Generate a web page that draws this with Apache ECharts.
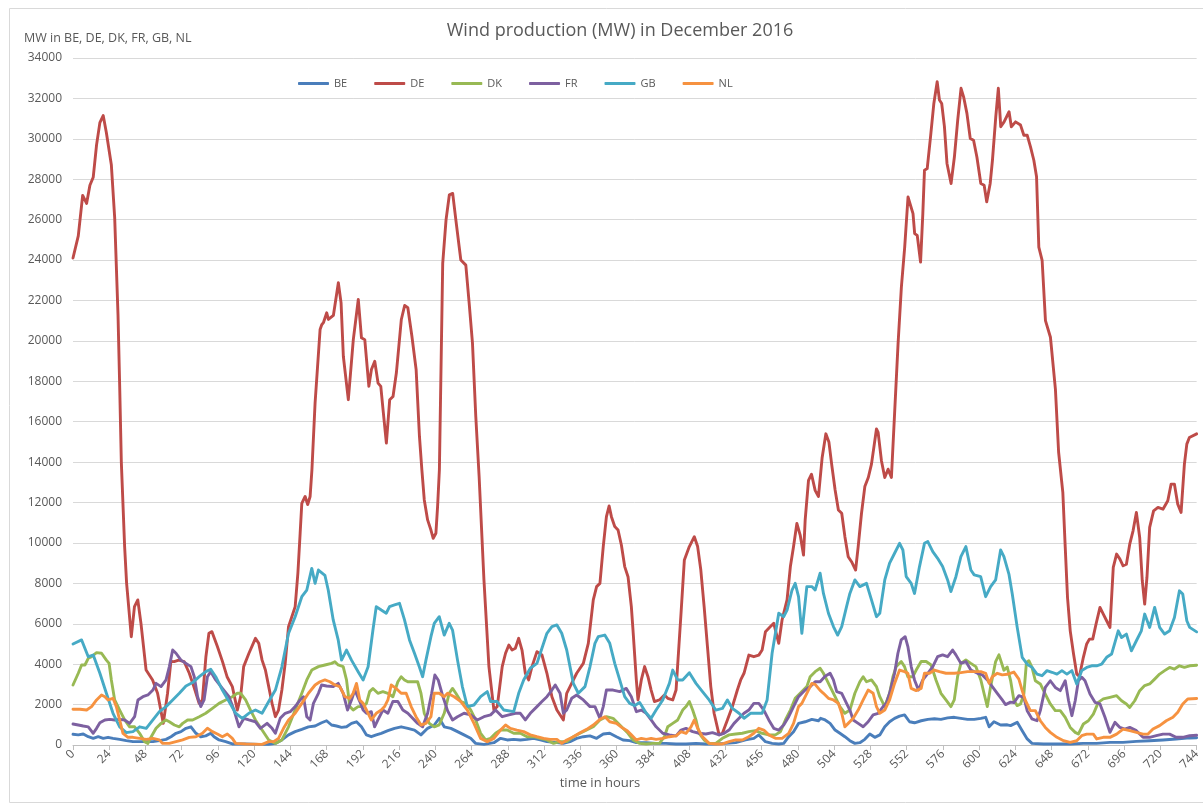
<!DOCTYPE html>
<html><head><meta charset="utf-8">
<script src="https://cdn.jsdelivr.net/npm/echarts@6/dist/echarts.min.js"></script>
<style>html,body{margin:0;padding:0;background:#fff;overflow:hidden}#chart{width:1203px;height:803px}</style>
</head><body><div id="chart"></div>
<script>
// [hour, MW] points
const bePoints = [[0,530],[3.5,500],[6.8,545],[10.1,410],[13.4,330],[16.7,410],[20,330],[23.2,380],[26.5,330],[30.9,280],[35.3,215],[39.7,165],[44.1,165],[48.5,165],[52.9,165],[57.2,215],[61.6,280],[64.9,410],[68.2,580],[71.5,660],[74.8,825],[78.1,900],[81.4,580],[84.6,410],[87.9,450],[91.2,580],[93.4,410],[96.7,250],[101.1,165],[105.5,50],[114.3,50],[123,30],[129.6,30],[134,80],[138.3,250],[142.7,500],[147.1,660],[151.5,775],[155.9,900],[160.3,940],[164.6,1100],[167.9,1200],[171.2,990],[174.5,940],[177.8,875],[181.1,900],[184.4,1070],[187.7,1150],[191,900],[194.3,500],[197.5,410],[200.8,500],[204.1,580],[208.5,710],[212.9,825],[217.3,900],[221.7,825],[226.1,740],[230.4,500],[234.8,825],[239.2,990],[242.5,1320],[245.8,900],[250.2,825],[254.6,660],[258.9,500],[263.3,330],[266.6,80],[272.1,30],[278.7,115],[283.1,330],[287.5,250],[291.8,280],[296.2,250],[300.6,280],[305,330],[309.4,250],[313.8,165],[320.4,115],[324.7,80],[329.1,165],[333.5,330],[337.9,410],[342.3,450],[346.7,330],[351.1,545],[355.4,580],[359.8,410],[364.2,250],[368.6,215],[373,120],[379.6,115],[386.1,80],[392.7,80],[399.3,50],[405.9,50],[412.5,80],[419,50],[425.6,50],[432.2,80],[438.8,115],[445.3,250],[450.8,330],[454.1,500],[458.5,165],[462.9,80],[467.3,50],[470.6,80],[473.9,410],[477.1,660],[480.4,1070],[484.8,1150],[489.2,1270],[493.6,1200],[495,1320],[498,1240],[501.3,1070],[504.6,740],[507.8,580],[511.1,410],[514.4,215],[517.7,80],[521,115],[524.3,280],[527.6,545],[530.9,380],[534.2,500],[537.5,900],[540.7,1150],[544,1320],[547.3,1430],[550.6,1490],[553.9,1150],[557.2,1100],[561.6,1200],[566,1270],[570.4,1300],[574.7,1270],[579.1,1340],[583.5,1370],[587.9,1320],[592.3,1270],[596.7,1270],[601.1,1320],[604.3,1370],[606.6,900],[609.8,1150],[614.2,990],[618.6,1000],[620.8,960],[625.2,1120],[628.5,710],[631.8,300],[635,80],[642.7,50],[651.5,50],[660.3,50],[669,80],[677.8,80],[686.6,130],[695.3,130],[704.1,180],[712.9,210],[721.7,250],[730.4,300],[739.4,350],[744,360]];

const dePoints = [[0,24100],[3.5,25200],[6.4,27200],[9,26800],[11.2,27700],[13.4,28100],[15.6,29700],[17.8,30800],[20,31150],[22.1,30300],[25.4,28700],[27.6,26100],[29.8,21300],[30.9,17800],[32,14000],[34.2,9800],[35.5,8000],[38.6,5360],[40.7,6850],[42.9,7180],[45,6020],[48.4,3710],[52.7,3220],[56,2560],[59.8,1070],[62.6,2560],[64.8,4130],[67,4125],[70,4200],[73.6,4125],[77,3550],[80,2890],[83.5,2060],[85.7,2230],[88,4370],[90,5530],[92,5610],[95.6,4870],[99,4125],[102,3380],[105.5,2890],[108.8,1730],[111,2390],[113,3880],[116.5,4540],[120.8,5280],[123,5030],[125.2,4200],[127.4,3710],[129.6,2890],[131.8,2060],[134,1400],[136.1,1730],[138.3,2720],[140.5,4040],[142.7,5860],[144.9,6350],[147.1,6850],[148.9,8500],[150.4,10480],[151.5,11960],[153.7,12300],[155.4,11900],[157,12300],[158.2,13620],[160.3,16940],[163.6,20560],[164.7,20800],[165.8,20900],[168,21390],[169.1,21060],[172.4,21260],[175.7,22880],[177.5,21880],[179,19240],[182.3,17090],[185.6,20060],[188.9,22050],[191,20150],[193.2,20060],[195.9,17750],[197.6,18580],[199.8,18990],[202,17910],[203.8,17750],[205.3,16590],[207.5,14940],[209.7,17090],[211.9,17250],[214.1,18410],[217.4,21060],[219.6,21750],[221.7,21640],[224.4,20230],[227.2,18580],[229.4,15270],[231,13620],[232.6,12130],[234.8,11140],[237,10640],[238.5,10230],[240.3,10480],[241.4,11800],[242.6,13620],[244.8,23840],[247,25990],[249.2,27230],[251.4,27300],[253.5,25990],[255.7,24660],[256.8,24000],[260.1,23750],[262.3,21880],[264.5,19900],[266.7,16260],[268.9,13300],[272.1,8170],[275.4,3880],[278.7,1730],[280.9,1900],[284.2,3880],[286.4,4540],[288.6,4950],[290.7,4700],[292.9,4790],[295.1,5280],[297.3,4700],[299.5,3550],[301.7,3220],[303.9,3880],[307.2,4620],[310.5,4455],[313.8,3550],[317.1,2390],[320.4,1730],[324.7,1240],[326.9,2560],[329.1,2890],[333.5,3550],[337.9,4040],[341.2,5030],[344.5,7180],[346.7,7840],[348.9,8000],[351.1,9820],[353.2,11300],[355,11830],[356.5,11300],[358.7,10810],[360.9,10640],[363.1,9900],[365.3,8830],[367.5,8330],[369.7,6850],[370.8,5690],[373,3220],[374.1,2230],[376.3,3220],[378.5,3880],[380.7,3380],[382.8,2720],[385,2150],[388.3,2230],[391.6,2475],[393.8,2310],[397.1,2230],[399.3,2720],[402.6,6520],[404.8,9160],[408.1,9820],[411.4,10310],[413.6,9820],[415.7,8660],[417.9,6850],[420.1,4870],[422.3,2890],[424.5,1570],[427.8,500],[430,580],[433.3,1240],[436.6,1900],[439.9,2720],[442.1,3220],[444.3,3550],[447.5,4450],[450.8,4370],[454.1,4450],[456.3,4700],[458.5,5610],[461.8,5860],[464,6020],[467.3,5030],[469.5,6190],[472.8,7180],[475,8830],[477.1,9820],[479.3,10970],[481.5,10390],[483.7,9400],[484.8,11140],[487,13100],[489,13400],[491.4,12600],[493.6,12300],[496,14200],[498.5,15400],[500.5,15000],[502.5,13800],[504.6,12630],[506.8,11630],[509,11470],[511.1,10310],[513.3,9320],[515.5,9070],[518.2,8660],[519.9,9820],[522.1,11470],[524.3,12790],[526.6,13240],[528.7,13900],[532,15640],[533.1,15470],[535.3,14070],[537.5,13240],[539.7,13650],[541.9,13240],[544.1,16550],[546.3,19850],[548.5,22660],[550.7,24640],[552.9,27120],[554,27160],[556.2,26300],[557.3,25310],[559,25220],[561.2,23900],[562.7,26300],[563.8,28450],[565.6,28530],[567.8,30100],[570,31750],[572.2,32830],[573.7,31920],[575.2,31750],[577,30600],[578.7,28780],[581.4,27790],[583.6,29100],[585.8,30930],[588,32500],[589.7,32080],[591.9,31260],[594.1,30020],[596.3,29930],[598.5,29100],[601.1,27790],[603.3,27700],[605,26880],[607.3,27790],[608.8,28940],[611,31090],[612.7,32500],[614.3,30600],[616.5,30840],[619.8,31340],[621.3,30600],[624.1,30840],[627.4,30680],[629.6,30180],[631.8,30180],[634,29600],[636.2,28940],[638,28120],[639.5,24640],[641.7,23980],[643.9,21000],[647.2,20180],[650.5,17600],[652.6,14500],[655.4,12500],[657,9780],[658.5,7300],[660.3,5650],[662.5,4500],[664.6,3510],[666.4,3400],[669,4340],[671.2,5000],[673,5240],[675.2,5240],[677.4,5990],[680,6810],[682.2,6480],[684.4,6150],[686.6,5820],[688.8,8790],[691,9450],[693.2,9200],[695.3,8870],[697.5,8950],[699.7,9940],[701.9,10600],[704.1,11510],[706.3,10270],[708,8130],[709.6,6970],[711.1,8290],[712.9,10770],[715.5,11590],[718.4,11760],[721.7,11670],[724.9,12090],[727.1,12910],[729.3,12910],[731.5,11920],[733.7,11510],[735.9,13900],[737.5,14890],[739.2,15220],[744,15400]];

const dkPoints = [[0,2970],[3.5,3550],[5.7,3960],[7.9,3960],[10.1,4290],[12.3,4370],[15.6,4570],[18.9,4540],[22.1,4200],[23.9,4040],[25.4,3220],[27.6,2230],[30.9,1730],[34.2,1240],[37.5,900],[40.8,900],[44.1,580],[47.4,160],[49.6,80],[51.8,410],[55,825],[58.3,1070],[61.6,1240],[63.8,1150],[67.1,990],[70.4,900],[72.6,1070],[75.9,1240],[79.2,1240],[83.6,1400],[87.9,1570],[92.3,1810],[96.7,2060],[101.1,2230],[105.5,2390],[108.8,2560],[111,2560],[114.3,2230],[117.5,1730],[120.8,1240],[125.2,740],[129.6,250],[134,80],[138.3,250],[142.7,900],[147.1,1730],[151.5,2560],[154.8,3220],[158.1,3710],[162.5,3880],[166.8,3960],[171.2,4040],[173.4,4120],[175.6,3960],[178.9,3880],[181.1,3220],[183.3,1900],[185.5,1730],[188.8,1900],[192.1,1900],[194.3,2060],[196.4,2640],[198.6,2800],[201.9,2560],[205.2,2640],[208.5,2560],[211.8,2390],[215.1,3130],[217.3,3380],[219.5,3220],[221.7,3130],[224.9,3130],[228.2,3130],[230.4,2560],[232.6,1570],[235.9,1070],[239.2,900],[242.5,1000],[245.8,1570],[249.1,2560],[251.3,2800],[253.5,2560],[256.8,2150],[260.1,2060],[263.4,1730],[266.6,1240],[269.9,580],[273.2,250],[276.5,330],[279.8,580],[283.1,740],[287.5,740],[291.8,580],[296.2,580],[300.6,410],[305,410],[309.4,330],[313.8,250],[318.2,80],[322.5,165],[326.9,165],[331.3,410],[335.7,580],[340.1,740],[344.5,900],[348.9,1240],[353.2,1400],[357.6,1320],[360.9,1070],[364.2,825],[367.5,580],[370.8,250],[375.2,80],[379.6,50],[383.9,80],[388.3,80],[391.6,410],[393.8,900],[397.1,1070],[400.4,1240],[403.7,1730],[405.9,1900],[408.1,2150],[410.3,1730],[412.5,1240],[414.6,580],[417.9,250],[421.2,80],[425.6,80],[430,330],[434.4,500],[438.8,545],[443.2,580],[447.5,660],[451.9,710],[456.3,580],[460.7,500],[465.1,500],[468.4,660],[471.7,1240],[475,1730],[478.2,2310],[481.5,2560],[485.9,2890],[488.1,3380],[491.4,3630],[494.7,3800],[496.9,3550],[499.1,3220],[501.3,2890],[504.6,2390],[507.8,1900],[511.1,1570],[514.4,1730],[517.7,2560],[521,3130],[523.2,3380],[525.4,3130],[528.7,3220],[532,2890],[534.2,2390],[537.5,1900],[540.7,2560],[542.9,3380],[545.1,3880],[548.4,4130],[550.6,3880],[552.8,3380],[556.1,3380],[558.3,3710],[561.6,4130],[564.9,4130],[568.2,3960],[571.4,3220],[574.7,2560],[578,2230],[581.3,1900],[583.5,2230],[585.7,3380],[587.9,4040],[591.2,4210],[594.5,4040],[597.8,3880],[601.1,3220],[603.2,2560],[605.4,1900],[607.6,2890],[610.9,4130],[613.1,4460],[616.4,3700],[618.6,3860],[620.8,3200],[623,2200],[625.2,1950],[627.4,2030],[629.6,2520],[631.3,4090],[632.9,4170],[635,3840],[637.2,3180],[640.5,3020],[643.8,2520],[647.1,2030],[650.4,1700],[653.7,1700],[657,1370],[660.3,870],[663.6,625],[665.7,540],[669,1040],[672.3,1200],[675.6,1530],[678.9,2110],[682.2,2280],[686.6,2360],[691,2440],[694.3,2190],[697.5,2030],[699.7,1860],[703,2190],[706.3,2690],[709.6,2940],[712.9,3020],[716.2,3260],[719.5,3510],[722.8,3680],[726.1,3840],[729.3,3760],[732.6,3920],[735.9,3840],[739.4,3920],[744,3950]];

const frPoints = [[0,1040],[3.5,990],[6.8,940],[10.1,900],[13.4,580],[15.6,825],[17.8,1100],[21.1,1240],[24.3,1270],[27.6,1240],[30.9,1270],[34.2,1240],[37.5,1070],[40.8,1400],[43,2230],[46.3,2390],[49.6,2475],[52.9,2720],[55,3050],[58.3,2890],[61.6,3220],[63.8,3880],[66,4700],[68.2,4540],[71.5,4200],[74.8,4040],[78.1,3880],[80.3,3380],[82.5,2390],[84.6,1900],[86.8,2230],[89,3380],[91.2,3630],[94.5,3220],[98.9,2800],[103.3,2390],[106.6,1730],[109.9,900],[113.2,1320],[116.4,1240],[120.8,1150],[124.1,825],[128.5,1070],[131.8,825],[134,580],[137.2,1320],[140.5,1570],[143.8,1650],[147.1,1900],[150.4,2230],[152.6,2390],[154.8,1400],[157,1240],[159.2,2060],[162.5,2560],[164.6,2970],[167.9,2920],[172.3,2890],[175.6,3050],[178.9,2560],[181.8,1730],[184.4,2230],[186.6,2720],[189.9,2150],[192.1,1730],[194.3,1570],[197.5,1650],[199.7,900],[201.9,1240],[205.2,1730],[208.5,1570],[211.8,2150],[215.1,2150],[218.4,1730],[221.7,1570],[224.9,1320],[228.2,1070],[231.5,900],[234.8,1570],[237.5,2560],[239.6,3465],[241.8,3220],[244.7,2450],[248,1700],[251.3,1240],[254.6,1400],[258.9,1570],[263.3,1490],[267.7,1240],[272.1,1400],[276.5,1490],[279.8,1730],[284.2,1400],[288.6,1490],[293,1570],[296.2,1570],[299.5,1240],[302.8,1570],[307.2,1900],[310.5,2150],[313.8,2390],[317.1,2720],[319.3,2970],[322.5,2560],[324.7,1570],[326.9,1730],[330.2,2310],[333.5,2475],[337.9,2230],[342.3,1900],[345.6,1900],[348.9,1320],[351.1,1900],[353.2,2720],[357.6,2720],[362,2640],[366.4,2800],[369.7,2390],[373,1650],[376.3,1730],[379.6,1570],[382.8,1240],[386.1,900],[390.5,580],[394.9,500],[399.3,450],[402.6,740],[405.9,825],[410.3,660],[414.6,580],[419,545],[423.4,610],[427.8,500],[431.1,580],[434.4,740],[437.7,1070],[441,1320],[444.3,1570],[447.5,1730],[450.8,2060],[454.1,2060],[457.4,1730],[460.7,1240],[464,825],[467.3,740],[470.6,990],[473.9,1400],[477.1,1900],[480.4,2390],[484.8,2720],[488.1,2890],[491.4,3130],[494.7,3130],[498,3400],[501.3,3550],[503.5,3220],[505.7,2640],[509,2560],[512.2,2060],[514.4,1730],[516.6,1240],[519.9,1070],[523.2,900],[526.5,1150],[529.8,1490],[533.1,1570],[536.4,1900],[538.5,2060],[540.7,2560],[544,3550],[546.2,4540],[548.4,5200],[551,5360],[552.8,4870],[555,3880],[557.2,3220],[559.8,2720],[562.7,3220],[566,3550],[569.3,3880],[572.5,4370],[575.8,4460],[579.1,4370],[582.4,4700],[584.6,4460],[587.9,4040],[591.2,4130],[594.5,3710],[598.9,3550],[602.1,3470],[605.4,3220],[608.7,2890],[612,2560],[615.3,2230],[617.5,2000],[620.8,2120],[623,2100],[626.3,2440],[629.6,2360],[631.8,1700],[635,1290],[638.3,1200],[640.5,1700],[643.8,2850],[647.1,3180],[650.4,2850],[653.7,2690],[657,3180],[659.2,2190],[661.4,1450],[663.6,2190],[665.7,3180],[668,3350],[670.1,3180],[673.4,2520],[676.7,2110],[680,2030],[683.3,1370],[686.6,625],[689.9,1120],[693.2,870],[696.4,790],[699.7,870],[704.1,710],[708.5,380],[712.9,380],[717.3,460],[721.7,540],[726.1,540],[730.4,380],[734.8,380],[739.4,460],[744,480]];

const gbPoints = [[0,5000],[5.7,5200],[10.1,4370],[13.4,4450],[17.8,3550],[22.1,2560],[26.5,1570],[30.9,900],[35.3,610],[39.7,660],[44.1,900],[48.5,825],[52.9,1240],[57.2,1650],[61.6,1900],[66,2230],[70.4,2560],[74.8,2920],[79.2,3090],[83.6,3380],[87.9,3630],[91.2,3750],[94.5,3380],[98.9,2720],[103.3,2150],[107.7,1570],[112.1,1320],[116.4,1570],[120.8,1730],[125.2,1570],[129.6,2150],[134,2720],[138.3,3870],[142.7,5520],[147.1,6350],[151.5,7340],[154.8,7670],[158.1,8740],[160.3,8000],[162.5,8660],[166.8,8400],[169,7670],[172.3,6190],[175.6,5200],[177.8,4200],[181.1,4700],[184.4,4200],[188.8,3630],[192.1,3220],[195.4,3870],[198.6,5690],[200.8,6850],[204.1,6680],[207.4,6520],[209.6,6850],[212.9,6930],[216.2,7010],[219.5,6190],[222.8,5200],[226.1,4540],[229.3,3870],[231.5,3380],[233.7,4200],[237,5360],[239.2,6020],[242.5,6350],[245.8,5440],[249.1,6020],[251.3,5690],[254.6,4200],[257.8,2890],[261.1,1900],[265.5,1980],[269.9,2390],[274.3,2640],[276.5,2150],[280.9,2150],[285.3,1730],[291.8,1650],[295.1,2560],[298.4,3220],[302.8,3800],[307.2,4040],[310.5,4790],[313.8,5530],[317.1,5860],[320.4,5940],[323.6,5530],[326.9,4700],[329.1,3870],[331.3,3050],[334.6,2560],[339,2890],[342.3,3870],[345.6,5030],[347.8,5360],[352.1,5440],[355.4,5030],[358.7,4040],[362,3220],[365.3,2390],[368.6,2060],[372,1950],[375.2,2100],[379.6,1570],[382.8,1320],[386.1,1730],[390.5,2230],[394.9,3050],[397.1,3710],[400.4,3220],[403.7,3220],[408.1,3580],[412.5,3050],[416.8,2640],[421.2,2230],[425.6,1730],[430,1810],[433.3,2230],[436.6,1810],[441,1570],[444.3,1320],[448.6,1570],[451.9,1570],[456.3,1570],[459.6,2230],[462.9,4540],[467.3,6520],[470.6,6350],[472.8,6680],[476.1,7670],[478.2,8000],[480.4,7340],[482.6,5530],[485.9,7840],[489.2,7840],[491.4,7670],[494.7,8500],[496.9,7500],[500.2,6520],[503.5,5860],[506.3,5440],[509,5860],[512.2,6850],[514.4,7500],[517.7,8170],[521,7840],[525.4,8000],[528.7,7180],[532,6350],[534.2,6520],[537.5,8170],[540.7,9000],[544,9490],[547.3,9980],[549.5,9650],[551.7,8330],[555,8000],[557.2,7500],[560.5,8830],[563.8,9980],[566,10070],[569.3,9570],[572.5,9240],[575.8,8830],[579.1,8170],[581.3,7590],[584.6,8330],[587.9,9320],[591.2,9820],[594.5,8660],[596.7,8420],[601,8330],[604.3,7340],[607.6,7840],[610.9,8170],[614.2,9650],[616.4,9320],[619.7,8460],[621.9,7490],[625.2,5820],[628.5,4340],[631.8,4000],[635,3840],[638.3,3510],[641.6,3430],[644.9,3680],[648.2,3600],[651.5,3510],[654.8,3680],[658.1,3510],[661.4,3680],[664.6,3020],[667.9,3680],[671.2,3840],[674.5,3920],[677.8,3920],[681.1,4000],[684.4,4340],[687.7,4500],[692.1,5650],[694.3,5320],[697.5,5490],[700.8,4660],[704.1,5160],[707.4,5650],[709.6,6480],[712.9,5820],[716.2,6810],[719.5,5820],[722.8,5490],[726.1,5650],[729.3,6310],[732.6,7630],[734.8,7470],[737.5,6150],[739.4,5820],[744,5600]];

const nlPoints = [[0,1770],[4.6,1770],[9,1730],[12.3,1900],[15.6,2230],[18.9,2475],[21.1,2390],[23.2,2230],[26.5,2310],[28.7,1900],[30.9,1240],[33.1,580],[36.4,380],[39.7,380],[44.1,330],[48.5,280],[52.9,330],[57.2,250],[59.4,80],[63.8,80],[68.2,165],[72.6,250],[77,380],[81.4,410],[85.7,580],[89,825],[92.3,660],[95.6,545],[98.9,410],[102.2,545],[105.5,330],[107.7,80],[114.3,50],[125.2,30],[129.6,165],[132.8,165],[136.1,330],[139.4,825],[142.7,1240],[147.1,1570],[151.5,2060],[155.9,2560],[160.3,2970],[163.5,3130],[166.8,3220],[170.1,3130],[173.4,2970],[176.7,2890],[180,2390],[183.3,2310],[185.5,2560],[187.7,3050],[189.9,2230],[192.1,2060],[195.4,1570],[197.5,1240],[200.8,1570],[204.1,1730],[206.3,1900],[208.5,2230],[210.7,2970],[214,2800],[217.3,2560],[220.6,2560],[223.9,1900],[227.1,1400],[230.4,990],[233.7,1070],[237,1400],[239.2,2560],[242.5,2560],[245.8,2390],[248,2560],[252.4,2390],[256.8,2150],[261.1,1730],[265.5,1070],[269.9,330],[274.3,165],[278.7,330],[283.1,740],[286.4,990],[289.6,825],[293.9,740],[298.4,660],[302.8,500],[307.2,410],[311.6,330],[315.9,280],[320.4,280],[323.6,80],[326.9,250],[331.3,410],[335.7,610],[340.1,775],[344.5,990],[348.9,1270],[352.2,1400],[355.4,1150],[359.8,1070],[364.2,825],[367,700],[369.7,500],[373,250],[376.3,330],[379.6,280],[382.8,330],[386.1,280],[390.5,330],[394.9,410],[399.3,450],[402.6,660],[405.9,580],[409.2,900],[411.4,1240],[413.6,825],[416.8,410],[421.2,80],[425.6,50],[430,50],[434.4,165],[438.8,250],[443.2,250],[447.5,410],[450.8,580],[454.1,825],[457.4,740],[460.7,500],[465.1,330],[469.5,330],[473.9,580],[477.1,1070],[480.4,1900],[482.6,2060],[485.9,2560],[489.2,3050],[491.4,3000],[494.7,2700],[496.9,2560],[500.2,2310],[503.5,2230],[506.8,2060],[509,1570],[511.1,900],[513.3,1070],[516.6,1320],[519.9,1730],[523.2,2230],[526.5,2720],[529.8,2560],[532,1900],[534.2,1570],[537.5,1730],[540.7,2230],[544,3050],[547.3,3710],[550.6,3630],[552.8,3550],[555,2800],[558.3,2690],[561.6,2800],[563.8,3550],[567.1,3550],[570.4,3710],[573.7,3630],[578,3550],[583.5,3550],[587.9,3580],[592.3,3630],[596.7,3630],[601.1,3630],[604.3,3550],[606.6,3050],[608.7,3380],[612,3550],[615.3,3470],[618.6,3500],[623,3610],[626.3,3260],[628.5,2690],[630.7,2190],[633.9,1700],[637.2,1700],[640.5,1200],[643.8,870],[647.1,625],[651.5,380],[655.9,210],[660.3,130],[664.6,210],[667.9,460],[671.2,540],[675.6,540],[677.8,300],[682.2,380],[686.6,380],[691,540],[695.3,790],[699.7,710],[704.1,625],[708.5,540],[711.8,540],[715.1,790],[719.5,960],[723.9,1200],[728.3,1370],[731.5,1620],[734.8,2030],[738.1,2280],[739.4,2280],[744,2300]];

const seriesNames = ['BE', 'DE', 'DK', 'FR', 'GB', 'NL'];
const seriesData = [bePoints, dePoints, dkPoints, frPoints, gbPoints, nlPoints];
const titleText = 'Wind production (MW) in December 2016';
const yAxisTitle = 'MW in BE, DE, DK, FR, GB, NL';
const xAxisTitle = 'time in hours';
const xMin = 0, xMax = 744, xStep = 24;
const yMin = 0, yMax = 34000, yStep = 2000;

const colors = ['#4a7ebb', '#be4b48', '#98b954', '#7d60a0', '#46aac5', '#f69240'];
const FONT = 'Open Sans';

const chart = echarts.init(document.getElementById('chart'), null, {renderer: 'canvas'});
chart.setOption({
  animation: false,
  color: colors,
  textStyle: {fontFamily: FONT},
  grid: {left: 73, right: -1, top: 58, bottom: 58, containLabel: false},
  legend: {
    data: seriesNames,
    left: 293, top: 73,
    itemWidth: 31, itemHeight: 3, itemGap: 27,
    icon: 'roundRect',
    textStyle: {fontFamily: FONT, fontSize: 11, color: '#595959', width: 15}
  },
  xAxis: {
    type: 'value', min: xMin, max: xMax, interval: xStep,
    axisLine: {lineStyle: {color: '#bfbfbf', width: 1}},
    axisTick: {show: true, length: 5, lineStyle: {color: '#bfbfbf'}},
    axisLabel: {rotate: 45, color: '#595959', fontSize: 12, fontFamily: FONT, margin: 7, showMaxLabel: true},
    splitLine: {show: false}
  },
  yAxis: {
    type: 'value', min: yMin, max: yMax, interval: yStep,
    axisLine: {show: false}, axisTick: {show: false},
    axisLabel: {color: '#595959', fontSize: 12, fontFamily: FONT, margin: 11, formatter: v => String(v)},
    splitLine: {lineStyle: {color: '#d9d9d9', width: 1}}
  },
  graphic: [
    {type: 'rect', left: 7, top: 6, silent: true, z: -1,
     shape: {width: 1215, height: 794}, style: {fill: 'none', stroke: '#d9d9d9', lineWidth: 1}},
    {type: 'text', x: 620, y: 31, silent: true,
     style: {text: titleText, fill: '#595959', font: '18px "' + FONT + '"', textAlign: 'center', textVerticalAlign: 'middle'}},
    {type: 'text', x: 24, y: 38, silent: true,
     style: {text: yAxisTitle, fill: '#595959', font: '12.5px "' + FONT + '"', textAlign: 'left', textVerticalAlign: 'middle'}},
    {type: 'text', x: 600, y: 783, silent: true,
     style: {text: xAxisTitle, fill: '#595959', font: '13px "' + FONT + '"', textAlign: 'center', textVerticalAlign: 'middle'}}
  ],
  series: seriesNames.map((name, i) => ({
    name: name, type: 'line', data: seriesData[i],
    showSymbol: false, symbol: 'none', smooth: false,
    lineStyle: {width: 2.9, color: colors[i], cap: 'round', join: 'round'},
    itemStyle: {color: colors[i]}
  }))
});
</script></body></html>
